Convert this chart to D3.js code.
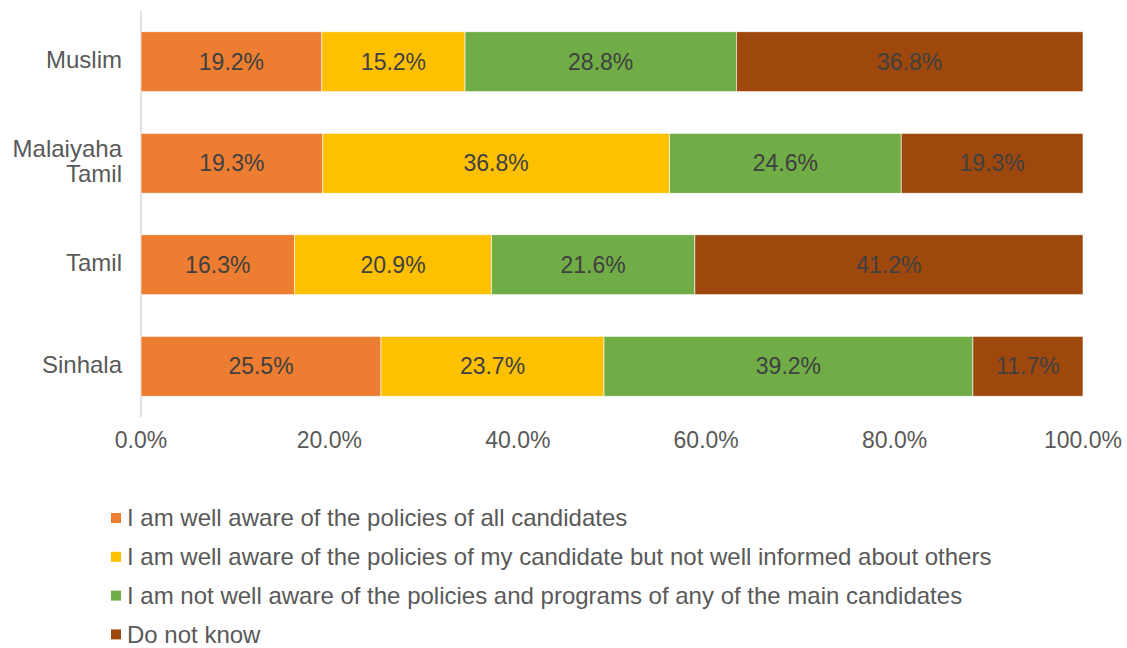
<!DOCTYPE html>
<html>
<head>
<meta charset="utf-8">
<script src="https://cdn.jsdelivr.net/npm/d3@7"></script>
<style>
  body { margin: 0; background: #fff; }
  text { font-family: "Liberation Sans", Arial, sans-serif; fill: #595959; }
</style>
</head>
<body>
<svg id="chart" width="1127" height="648"></svg>
<script>
// categories top to bottom
const groups = ["Muslim", "Malaiyaha Tamil", "Tamil", "Sinhala"];
const seriesNames = [
  "I am well aware of the policies of all candidates",
  "I am well aware of the policies of my candidate but not well informed about others",
  "I am not well aware of the policies and programs of any of the main candidates",
  "Do not know"
];
const wellAll = [19.2, 19.3, 16.3, 25.5];
const wellMine = [15.2, 36.8, 20.9, 23.7];
const notWell = [28.8, 24.6, 21.6, 39.2];
const dontKnow = [36.8, 19.3, 41.2, 11.7];
const tickValues = [0, 0.2, 0.4, 0.6, 0.8, 1.0];
const colors = ["#ED7D31", "#FFC000", "#70AD47", "#9E480E"];

const svg = d3.select("#chart");
const left = 141, right = 1083;

const rows = groups.map((g, i) => ({
  group: g,
  s0: wellAll[i], s1: wellMine[i], s2: notWell[i], s3: dontKnow[i]
}));
const keys = ["s0", "s1", "s2", "s3"];
const stacked = d3.stack().keys(keys).offset(d3.stackOffsetExpand)(rows);

const x = d3.scaleLinear().domain([0, 1]).range([left, right]);
const y = d3.scaleBand().domain(groups).range([11, 417]).paddingInner(0.41).paddingOuter(0.205);

// vertical axis line
svg.append("line")
  .attr("x1", left).attr("x2", left)
  .attr("y1", 11).attr("y2", 417)
  .attr("stroke", "#d9d9d9").attr("stroke-width", 1.5);

const layer = svg.selectAll("g.layer")
  .data(stacked)
  .enter().append("g")
  .attr("class", "layer")
  .attr("fill", (d, i) => colors[i]);

layer.selectAll("rect")
  .data(d => d)
  .enter().append("rect")
  .attr("x", d => x(d[0]))
  .attr("y", d => y(d.data.group))
  .attr("width", d => x(d[1]) - x(d[0]))
  .attr("height", y.bandwidth())
  .attr("stroke", "#fff")
  .attr("stroke-width", 0.6);

layer.selectAll("text")
  .data((d, i) => d.map(v => ({ v: v, key: d.key })))
  .enter().append("text")
  .attr("x", d => (x(d.v[0]) + x(d.v[1])) / 2)
  .attr("y", d => y(d.v.data.group) + y.bandwidth() / 2)
  .attr("dy", "0.35em")
  .attr("text-anchor", "middle")
  .style("font-size", "23px")
  .style("fill", "#404040")
  .text(d => d.v.data[d.key].toFixed(1) + "%");

// category labels
svg.selectAll("g.cat")
  .data(groups)
  .enter().append("g")
  .attr("class", "cat")
  .each(function (g) {
    const words = g === "Malaiyaha Tamil" ? ["Malaiyaha", "Tamil"] : [g];
    const cy = y(g) + y.bandwidth() / 2;
    const t = d3.select(this).append("text")
      .attr("text-anchor", "end")
      .style("font-size", "24px");
    words.forEach((w, i) => {
      t.append("tspan")
        .attr("x", 122)
        .attr("y", cy - 2 + (i - (words.length - 1) / 2) * 25)
        .attr("dy", "0.35em")
        .text(w);
    });
  });

// x tick labels
svg.selectAll("text.tick")
  .data(tickValues)
  .enter().append("text")
  .attr("class", "tick")
  .attr("x", d => x(d))
  .attr("y", 440)
  .attr("dy", "0.35em")
  .attr("text-anchor", "middle")
  .style("font-size", "23px")
  .text(d => d3.format(".1%")(d));

// legend
const leg = svg.selectAll("g.leg")
  .data(seriesNames)
  .enter().append("g")
  .attr("class", "leg")
  .attr("transform", (d, i) => `translate(111, ${518 + i * 38.8})`);
leg.append("rect")
  .attr("x", 0).attr("y", -5)
  .attr("width", 10).attr("height", 10)
  .attr("fill", (d, i) => colors[i]);
leg.append("text")
  .attr("x", 16)
  .attr("dy", "0.35em")
  .style("font-size", "24px")
  .text(d => d);
</script>
</body>
</html>
